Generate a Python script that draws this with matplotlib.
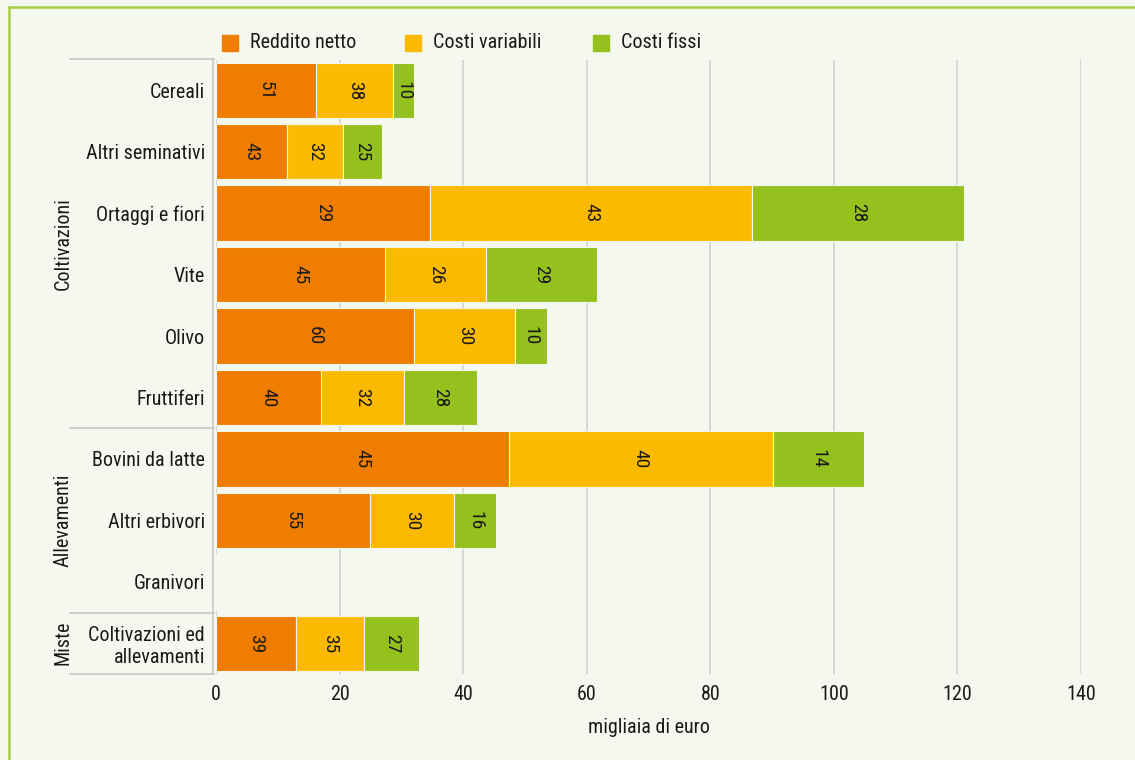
import matplotlib
matplotlib.use("Agg")
import matplotlib.pyplot as plt
from matplotlib import font_manager
from matplotlib.patches import Rectangle
from matplotlib.transforms import blended_transform_factory
import numpy as np

# ---------------- data ----------------
categories = ["Cereali", "Altri seminativi", "Ortaggi e fiori", "Vite", "Olivo",
              "Fruttiferi", "Bovini da latte", "Altri erbivori", "Granivori",
              "Coltivazioni ed\nallevamenti"]
groups = ["Coltivazioni", "Allevamenti", "Miste"]
group_sizes = [6, 3, 1]
series_names = ["Reddito netto", "Costi variabili", "Costi fissi"]

# segment lengths, thousands of euro
reddito_netto = [16.2, 11.5, 34.6, 27.4, 32.1, 17.0, 47.4, 24.9, 0, 12.9]
costi_variabili = [12.5, 9.0, 52.2, 16.3, 16.3, 13.4, 42.7, 13.7, 0, 11.1]
costi_fissi = [3.35, 6.4, 34.2, 17.9, 5.1, 11.9, 14.8, 6.7, 0, 8.9]

# percentage labels shown inside the segments
pct_reddito = ["51", "43", "29", "45", "60", "40", "45", "55", "", "39"]
pct_variabili = ["38", "32", "43", "26", "30", "32", "40", "30", "", "35"]
pct_fissi = ["10", "25", "28", "29", "10", "28", "14", "16", "", "27"]

x_ticks = [0, 20, 40, 60, 80, 100, 120, 140]
x_label = "migliaia di euro"

# ---------------- style ----------------
available = {f.name for f in font_manager.fontManager.ttflist}
family = "DejaVu Sans"
for cand in ["Roboto Condensed", "Liberation Sans Narrow", "DejaVu Sans Condensed"]:
    if cand in available:
        family = cand
        break
plt.rcParams["font.family"] = [family, "DejaVu Sans"]
if family == "DejaVu Sans":
    plt.rcParams["font.stretch"] = "condensed"

FS = 14.5
BG = "#F5F8EE"
TXT = "#1A1A1A"
colors = ["#EF7D00", "#FBBA00", "#95C11F"]
GRID = "#D2D2D2"
SEP = "#C8C8C8"
BORDER = "#A9CE45"

W, H = 1135, 760
fig = plt.figure(figsize=(W / 100, H / 100), dpi=100, facecolor=BG)

def fx(px):
    return px / W

def fy(py):
    return 1 - py / H

ax_left, ax_right, ax_top, ax_bot = 216, 1081, 59.5, 674
ax = fig.add_axes([fx(ax_left), fy(ax_bot), fx(ax_right - ax_left), (ax_bot - ax_top) / H])
ax.set_facecolor(BG)

y = np.arange(len(categories))
values = [reddito_netto, costi_variabili, costi_fissi]
labels = [pct_reddito, pct_variabili, pct_fissi]
left = np.zeros(len(categories))
for vals, lab, col in zip(values, labels, colors):
    bars = ax.barh(y, vals, left=left, height=0.9, color=col,
                   edgecolor="#F3F6EA", linewidth=0.8, zorder=3)
    ax.bar_label(bars, labels=lab, label_type="center", rotation=-90,
                 fontsize=14, color=TXT)
    left = left + np.array(vals)

ax.set_xlim(0, 140)
ax.set_ylim(len(categories) - 0.5, -0.5)
ax.set_xticks(x_ticks)
ax.set_xticklabels([str(t) for t in x_ticks])
ax.set_yticks(y)
ax.set_yticklabels(categories, linespacing=0.95)
ax.tick_params(axis="both", length=0, labelsize=FS, labelcolor=TXT)
ax.tick_params(axis="y", pad=6)
ax.tick_params(axis="x", pad=8)
ax.xaxis.grid(True, color=GRID, linewidth=1.2, zorder=0)
ax.set_axisbelow(True)
for s in ["top", "right", "bottom"]:
    ax.spines[s].set_visible(False)
ax.spines["left"].set_color(SEP)
ax.spines["left"].set_linewidth(1.2)
ax.spines["left"].set_position(("outward", 2))
ax.set_xlabel(x_label, fontsize=FS, color=TXT, labelpad=10)

# group separators and labels
tr = blended_transform_factory(fig.transFigure, ax.transData)
bounds = np.concatenate([[0], np.cumsum(group_sizes)]) - 0.5
for b in bounds:
    ax.plot([fx(70), fx(214)], [b, b], transform=tr, color=SEP, lw=1.2,
            clip_on=False, zorder=1)
for g, a, b in zip(groups, bounds[:-1], bounds[1:]):
    ax.text(fx(63), (a + b) / 2, g, transform=tr, rotation=90, ha="center",
            va="center", fontsize=FS, color=TXT)

# legend
leg_x = [222, 405, 593]
for name, col, lx in zip(series_names, colors, leg_x):
    fig.patches.append(Rectangle((fx(lx), fy(51)), 16 / W, 16 / H,
                                 transform=fig.transFigure, color=col))
    fig.text(fx(lx + 28), fy(43), name, ha="left", va="center",
             fontsize=FS, color=TXT)

# frame border (top and left)
fig.add_artist(plt.Line2D([fx(8.5), 1], [fy(6.5), fy(6.5)], color=BORDER, lw=1.8))
fig.add_artist(plt.Line2D([fx(8.5), fx(8.5)], [fy(6.5), 0], color=BORDER, lw=1.8))

fig.savefig("out.png", dpi=100, facecolor=BG)
